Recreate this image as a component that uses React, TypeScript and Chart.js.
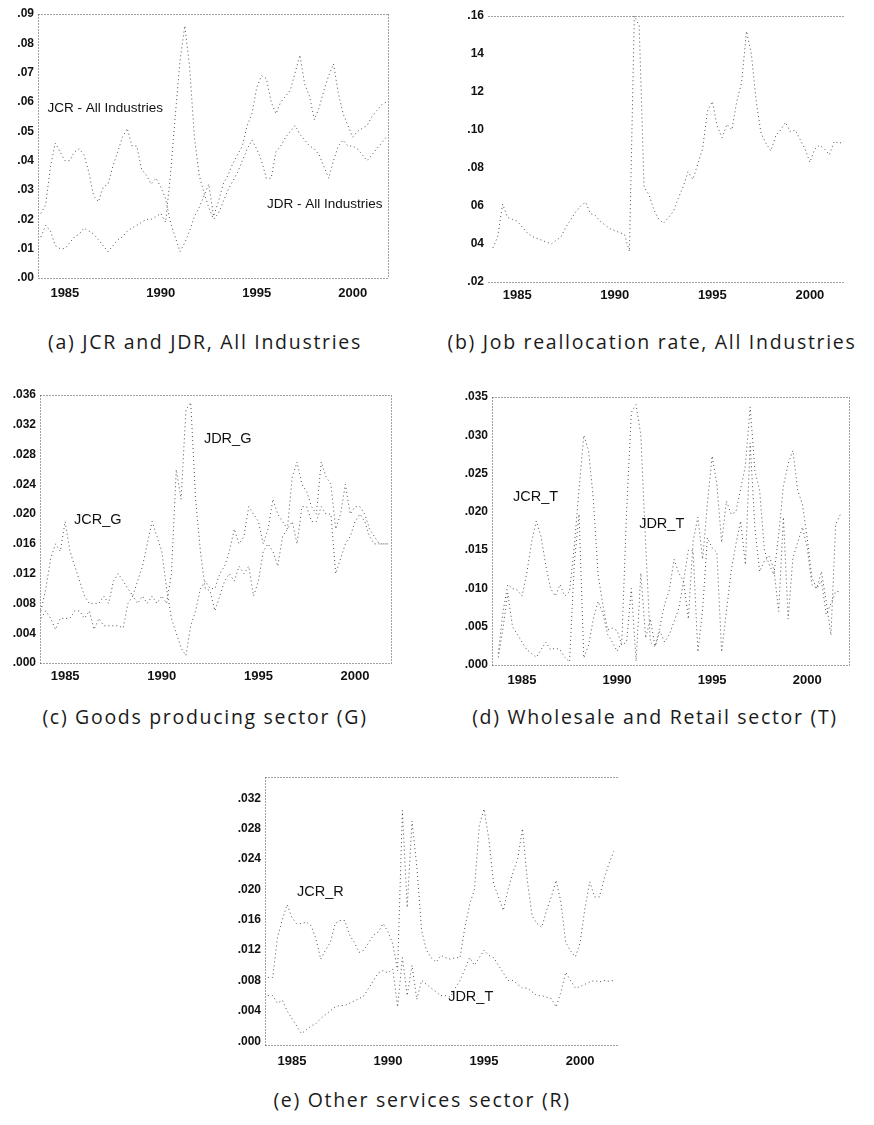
import React, { useEffect, useRef } from 'react';
import { Chart, registerables } from 'chart.js';

Chart.register(...registerables);

// Quarterly observation dates (decimal years)
const quarters = [
  1983.75,
  1984, 1984.25, 1984.5, 1984.75,
  1985, 1985.25, 1985.5, 1985.75,
  1986, 1986.25, 1986.5, 1986.75,
  1987, 1987.25, 1987.5, 1987.75,
  1988, 1988.25, 1988.5, 1988.75,
  1989, 1989.25, 1989.5, 1989.75,
  1990, 1990.25, 1990.5, 1990.75,
  1991, 1991.25, 1991.5, 1991.75,
  1992, 1992.25, 1992.5, 1992.75,
  1993, 1993.25, 1993.5, 1993.75,
  1994, 1994.25, 1994.5, 1994.75,
  1995, 1995.25, 1995.5, 1995.75,
  1996, 1996.25, 1996.5, 1996.75,
  1997, 1997.25, 1997.5, 1997.75,
  1998, 1998.25, 1998.5, 1998.75,
  1999, 1999.25, 1999.5, 1999.75,
  2000, 2000.25, 2000.5, 2000.75,
  2001, 2001.25, 2001.5, 2001.75,
];

// (a) All industries
const jcrAll = [
  .022,
  .025, .038, .046, .043,
  .040, .040, .043, .044,
  .042, .036, .028, .026,
  .031, .032, .038, .043,
  .048, .051, .045, .045,
  .037, .035, .032, .034,
  .031, .027, .019, .014,
  .009, .012, .016, .021,
  .024, .028, .032, .021,
  .026, .032, .035, .039,
  .042, .045, .052, .056,
  .065, .069, .068, .060,
  .056, .060, .062, .064,
  .070, .076, .066, .062,
  .054, .058, .064, .069,
  .073, .063, .056, .052,
  .048, .050, .051, .052,
  .055, .057, .059, .060,
];
const jdrAll = [
  .014,
  .018, .016, .011, .010,
  .010, .012, .014, .015,
  .017, .016, .015, .013,
  .011, .009, .011, .013,
  .014, .016, .017, .018,
  .019, .020, .020, .021,
  .022, .019, .035, .055,
  .074, .086, .072, .048,
  .035, .029, .024, .020,
  .022, .026, .030, .033,
  .036, .040, .044, .047,
  .044, .040, .034, .034,
  .043, .045, .048, .050,
  .052, .049, .047, .045,
  .044, .042, .038, .034,
  .040, .045, .047, .045,
  .045, .044, .042, .040,
  .042, .044, .046, .048,
];

// (b) Job reallocation rate
const jrrAll = [
  .038,
  .044, .061, .054, .053,
  .052, .049, .046, .044,
  .043, .042, .041, .040,
  .042, .044, .049, .053,
  .057, .060, .062, .056,
  .055, .052, .050, .048,
  .047, .046, .045, .036,
  .160, .155, .070, .066,
  .058, .053, .051, .054,
  .057, .064, .070, .078,
  .074, .082, .090, .110,
  .115, .102, .096, .103,
  .100, .115, .125, .152,
  .140, .115, .098, .093,
  .089, .097, .100, .104,
  .099, .100, .095, .090,
  .083, .090, .092, .090,
  .087, .094, .093, .094,
];

// (c) Goods producing sector
const jcrG = [
  .007,
  .010, .014, .016, .015,
  .019, .015, .013, .011,
  .009, .008, .008, .008,
  .009, .008, .011, .012,
  .011, .010, .009, .011,
  .013, .016, .019, .017,
  .015, .010, .006, .004,
  .002, .001, .005, .007,
  .010, .011, .010, .010,
  .012, .013, .015, .018,
  .016, .017, .021, .020,
  .019, .016, .018, .022,
  .020, .019, .018, .025,
  .027, .024, .023, .021,
  .020, .027, .025, .024,
  .018, .020, .024, .020,
  .021, .021, .020, .018,
  .017, .016, .016, .016,
];
const jdrG = [
  .006,
  .007, .006, .0045, .006,
  .006, .006, .007, .007,
  .006, .007, .0045, .006,
  .005, .005, .005, .005,
  .0047, .008, .009, .008,
  .009, .008, .009, .008,
  .009, .008, .012, .026,
  .022, .034, .035, .022,
  .015, .010, .0097, .007,
  .009, .011, .012, .011,
  .013, .012, .013, .009,
  .011, .015, .016, .015,
  .013, .017, .018, .019,
  .016, .021, .021, .019,
  .019, .021, .020, .020,
  .012, .014, .016, .017,
  .019, .020, .019, .017,
  .016, .016, .016, .016,
];

// (d) Wholesale and retail sector
const jcrT = [
  .0015,
  .007, .0105, .010, .0098,
  .009, .012, .016, .0188,
  .0168, .013, .010, .009,
  .0105, .009, .0096, .0155,
  .023, .030, .028, .0217,
  .0118, .0079, .0046, .0048,
  .0045, .0026, .003, .010,
  .0005, .012, .0035, .006,
  .0024, .005, .0079, .0098,
  .0138, .012, .0109, .006,
  .0162, .0193, .0138, .021,
  .0273, .0236, .016, .0214,
  .0197, .020, .023, .026,
  .0337, .0254, .0228, .015,
  .0131, .0118, .017, .0234,
  .0263, .028, .0228, .021,
  .0166, .0114, .010, .0122,
  .0083, .0039, .0184, .0197,
];
const jdrT = [
  .001,
  .0048, .0094, .005, .004,
  .003, .002, .0015, .001,
  .002, .003, .002, .0022,
  .002, .001, .0004, .0133,
  .0197, .0009, .0026, .006,
  .0083, .0068, .004, .003,
  .0018, .003, .020, .033,
  .034, .030, .016, .003,
  .0024, .0044, .003, .004,
  .0057, .0074, .011, .015,
  .0149, .0017, .0072, .0166,
  .0153, .0147, .0017, .007,
  .0122, .0158, .0188, .0131,
  .029, .0179, .0122, .0136,
  .0142, .0125, .007, .0193,
  .006, .014, .016, .018,
  .0153, .0105, .010, .011,
  .0066, .008, .0096, .0096,
];

// (e) Other services sector
const jcrR = [
  .0084,
  .0084, .0137, .016, .018,
  .0163, .0155, .0155, .0157,
  .0152, .0135, .0108, .012,
  .013, .0155, .0159, .0159,
  .014, .013, .0117, .012,
  .013, .014, .0144, .0155,
  .0144, .0128, .0093, .0304,
  .0176, .029, .023, .0146,
  .012, .011, .0104, .0113,
  .011, .0108, .011, .011,
  .015, .018, .020, .0284,
  .0306, .0266, .0207, .019,
  .0172, .020, .0222, .024,
  .028, .0212, .0165, .0155,
  .015, .0172, .019, .0212,
  .0183, .013, .0119, .0111,
  .013, .0175, .021, .019,
  .019, .0214, .0234, .025,
];
const jdrR = [
  .006,
  .006, .005, .0054, .004,
  .003, .002, .001, .0015,
  .002, .0023, .003, .0035,
  .004, .0045, .0047, .0047,
  .005, .0053, .0056, .006,
  .007, .008, .009, .0093,
  .009, .0095, .0045, .011,
  .006, .010, .0055, .008,
  .0075, .007, .0065, .006,
  .006, .0058, .007, .008,
  .0095, .011, .010, .011,
  .012, .0113, .011, .010,
  .009, .008, .008, .0075,
  .007, .007, .0065, .006,
  .006, .0058, .0056, .0045,
  .0065, .0091, .008, .007,
  .0072, .0075, .0078, .008,
  .0078, .008, .0079, .008,
];

// Tick values and labels
const xTickYears = [1985, 1990, 1995, 2000];
const xTickLabels = ['1985', '1990', '1995', '2000'];

const yTicksA = [0, .01, .02, .03, .04, .05, .06, .07, .08, .09];
const yLabelsA = ['.00', '.01', '.02', '.03', '.04', '.05', '.06', '.07', '.08', '.09'];
const yTicksB = [.02, .04, .06, .08, .10, .12, .14, .16];
const yLabelsB = ['.02', '04', '06', '.08', '.10', '12', '14', '.16'];
const yTicksC = [0, .004, .008, .012, .016, .020, .024, .028, .032, .036];
const yLabelsC = ['.000', '.004', '.008', '.012', '.016', '.020', '.024', '.028', '.032', '.036'];
const yTicksD = [0, .005, .010, .015, .020, .025, .030, .035];
const yLabelsD = ['.000', '.005', '.010', '.015', '.020', '.025', '.030', '.035'];
const yTicksE = [0, .004, .008, .012, .016, .020, .024, .028, .032];
const yLabelsE = ['.000', '.004', '.008', '.012', '.016', '.020', '.024', '.028', '.032'];

// Series names and in-plot labels
const namesA = ['JCR - All Industries', 'JDR - All Industries'];
const namesB = ['Job reallocation rate'];
const namesC = ['JCR_G', 'JDR_G'];
const namesD = ['JCR_T', 'JDR_T'];
const namesE = ['JCR_R', 'JDR_T'];

const captions = [
  '(a) JCR and JDR, All Industries',
  '(b) Job reallocation rate, All Industries',
  '(c) Goods producing sector (G)',
  '(d) Wholesale and Retail sector (T)',
  '(e) Other services sector (R)',
];

type Note = { text: string; x: number; y: number };
type PanelCfg = {
  left: number; top: number; w: number; h: number;
  yW: number; xH: number; padTop: number; padRight: number;
  xMin: number; xMax: number; yMin: number; yMax: number;
  yTicks: number[]; yLabels: string[];
  series: number[][]; names: string[];
  notes: Note[];
  sides: { top: boolean; right: boolean; bottom: boolean; left: boolean };
  yFont: number; xFont: number; noteFont: number; xPad: number;
  caption: string; capCenter: number; capTop: number;
};

const panels: PanelCfg[] = [
  {
    left: 0, top: 0, w: 400, h: 312, yW: 38, xH: 34, padTop: 14, padRight: 12,
    xMin: 1983.6, xMax: 2001.84, yMin: 0, yMax: 0.09,
    yTicks: yTicksA, yLabels: yLabelsA, series: [jcrAll, jdrAll], names: namesA,
    notes: [
      { text: namesA[0], x: 1984.1, y: 0.058 },
      { text: namesA[1], x: 1995.53, y: 0.0252 },
    ],
    sides: { top: true, right: true, bottom: true, left: true },
    yFont: 12, xFont: 13, noteFont: 13.5, xPad: 8,
    caption: captions[0], capCenter: 205, capTop: 330,
  },
  {
    left: 440, top: 0, w: 434, h: 312, yW: 48, xH: 30, padTop: 16, padRight: 29,
    xMin: 1983.5, xMax: 2001.8, yMin: 0.02, yMax: 0.16,
    yTicks: yTicksB, yLabels: yLabelsB, series: [jrrAll], names: namesB,
    notes: [],
    sides: { top: true, right: false, bottom: true, left: false },
    yFont: 12, xFont: 13, noteFont: 13, xPad: 6,
    caption: captions[1], capCenter: 652, capTop: 330,
  },
  {
    left: 0, top: 370, w: 420, h: 322, yW: 40, xH: 29, padTop: 25, padRight: 29,
    xMin: 1983.7, xMax: 2001.86, yMin: 0, yMax: 0.036,
    yTicks: yTicksC, yLabels: yLabelsC, series: [jcrG, jdrG], names: namesC,
    notes: [
      { text: namesC[0], x: 1985.46, y: 0.0192 },
      { text: namesC[1], x: 1992.18, y: 0.0301 },
    ],
    sides: { top: true, right: true, bottom: true, left: true },
    yFont: 12, xFont: 13, noteFont: 14.5, xPad: 6,
    caption: captions[2], capCenter: 205, capTop: 705,
  },
  {
    left: 440, top: 370, w: 434, h: 322, yW: 52, xH: 27, padTop: 27, padRight: 25,
    xMin: 1983.42, xMax: 2002.2, yMin: 0, yMax: 0.035,
    yTicks: yTicksD, yLabels: yLabelsD, series: [jcrT, jdrT], names: namesD,
    notes: [
      { text: namesD[0], x: 1984.53, y: 0.0219 },
      { text: namesD[1], x: 1991.16, y: 0.0184 },
    ],
    sides: { top: true, right: true, bottom: true, left: true },
    yFont: 12, xFont: 13, noteFont: 14.5, xPad: 8,
    caption: captions[3], capCenter: 655, capTop: 705,
  },
  {
    left: 200, top: 750, w: 440, h: 330, yW: 65, xH: 35, padTop: 27, padRight: 22,
    xMin: 1983.6, xMax: 2001.97, yMin: -0.0005, yMax: 0.0348,
    yTicks: yTicksE, yLabels: yLabelsE, series: [jcrR, jdrR], names: namesE,
    notes: [
      { text: namesE[0], x: 1985.27, y: 0.0196 },
      { text: namesE[1], x: 1993.13, y: 0.0058 },
    ],
    sides: { top: true, right: false, bottom: true, left: true },
    yFont: 12, xFont: 13, noteFont: 14.5, xPad: 9,
    caption: captions[4], capCenter: 422, capTop: 1088,
  },
];

const TICK_FONT = "'Liberation Sans', Arial, sans-serif";

function Panel({ cfg }: { cfg: PanelCfg }) {
  const ref = useRef<HTMLCanvasElement>(null);
  useEffect(() => {
    const frameAndNotes = {
      id: 'frameAndNotes',
      afterDatasetsDraw(chart: any) {
        const { ctx, chartArea: a, scales } = chart;
        ctx.save();
        ctx.strokeStyle = '#444';
        ctx.lineWidth = 1;
        ctx.setLineDash([1, 2]);
        const L = Math.round(a.left) + 0.5, R = Math.round(a.right) + 0.5;
        const T = Math.round(a.top) + 0.5, B = Math.round(a.bottom) + 0.5;
        ctx.beginPath();
        if (cfg.sides.top) { ctx.moveTo(L, T); ctx.lineTo(R, T); }
        if (cfg.sides.bottom) { ctx.moveTo(L, B); ctx.lineTo(R, B); }
        if (cfg.sides.left) { ctx.moveTo(L, T); ctx.lineTo(L, B); }
        if (cfg.sides.right) { ctx.moveTo(R, T); ctx.lineTo(R, B); }
        ctx.stroke();
        ctx.setLineDash([]);
        ctx.fillStyle = '#111';
        ctx.font = `${cfg.noteFont}px ${TICK_FONT}`;
        ctx.textAlign = 'left';
        ctx.textBaseline = 'middle';
        cfg.notes.forEach((n) => {
          ctx.fillText(n.text, scales.x.getPixelForValue(n.x), scales.y.getPixelForValue(n.y));
        });
        ctx.restore();
      },
    };

    const chart = new Chart(ref.current as HTMLCanvasElement, {
      type: 'line',
      data: {
        datasets: cfg.series.map((s, k) => ({
          label: cfg.names[k],
          data: quarters.map((q, i) => ({ x: q, y: s[i] })),
          borderColor: 'rgba(20,20,20,0.75)',
          borderWidth: 1,
          borderDash: [1, 3],
          pointRadius: 0,
          tension: 0,
          fill: false,
        })),
      },
      options: {
        responsive: false,
        animation: false,
        devicePixelRatio: 1,
        layout: { padding: { top: cfg.padTop, right: cfg.padRight, left: 0, bottom: 0 } },
        plugins: { legend: { display: false }, tooltip: { enabled: false } },
        scales: {
          x: {
            type: 'linear',
            min: cfg.xMin,
            max: cfg.xMax,
            grid: { display: false, drawTicks: false },
            border: { display: false },
            afterBuildTicks: (scale: any) => {
              scale.ticks = xTickYears.map((v) => ({ value: v }));
            },
            afterFit: (scale: any) => { scale.height = cfg.xH; },
            ticks: {
              padding: cfg.xPad,
              color: '#111',
              font: { family: TICK_FONT, size: cfg.xFont, weight: 'bold' },
              maxRotation: 0,
              autoSkip: false,
              callback: (_v: any, i: number) => xTickLabels[i],
            },
          },
          y: {
            type: 'linear',
            min: cfg.yMin,
            max: cfg.yMax,
            grid: { display: false, drawTicks: false },
            border: { display: false },
            afterBuildTicks: (scale: any) => {
              scale.ticks = cfg.yTicks.map((v) => ({ value: v }));
            },
            afterFit: (scale: any) => { scale.width = cfg.yW; },
            ticks: {
              padding: 4,
              color: '#111',
              font: { family: TICK_FONT, size: cfg.yFont, weight: 'bold' },
              autoSkip: false,
              callback: (_v: any, i: number) => cfg.yLabels[i],
            },
          },
        },
      },
      plugins: [frameAndNotes],
    } as any);
    return () => chart.destroy();
  }, []);

  return (
    <>
      <canvas
        ref={ref}
        width={cfg.w}
        height={cfg.h}
        style={{ position: 'absolute', left: cfg.left, top: cfg.top, width: cfg.w, height: cfg.h }}
      />
      <div
        style={{
          position: 'absolute',
          left: cfg.capCenter - 230,
          width: 460,
          top: cfg.capTop,
          textAlign: 'center',
          fontFamily: '"Open Sans", Lato, sans-serif',
          fontSize: 19.5,
          letterSpacing: '1.7px',
          lineHeight: '24px',
          color: '#1a1a1a',
          whiteSpace: 'nowrap',
        }}
      >
        {cfg.caption}
      </div>
    </>
  );
}

export default function App() {
  return (
    <div style={{ position: 'absolute', left: 0, top: 0, width: 874, height: 1125, background: '#fff', overflow: 'hidden' }}>
      {panels.map((p, i) => (
        <Panel key={i} cfg={p} />
      ))}
    </div>
  );
}
